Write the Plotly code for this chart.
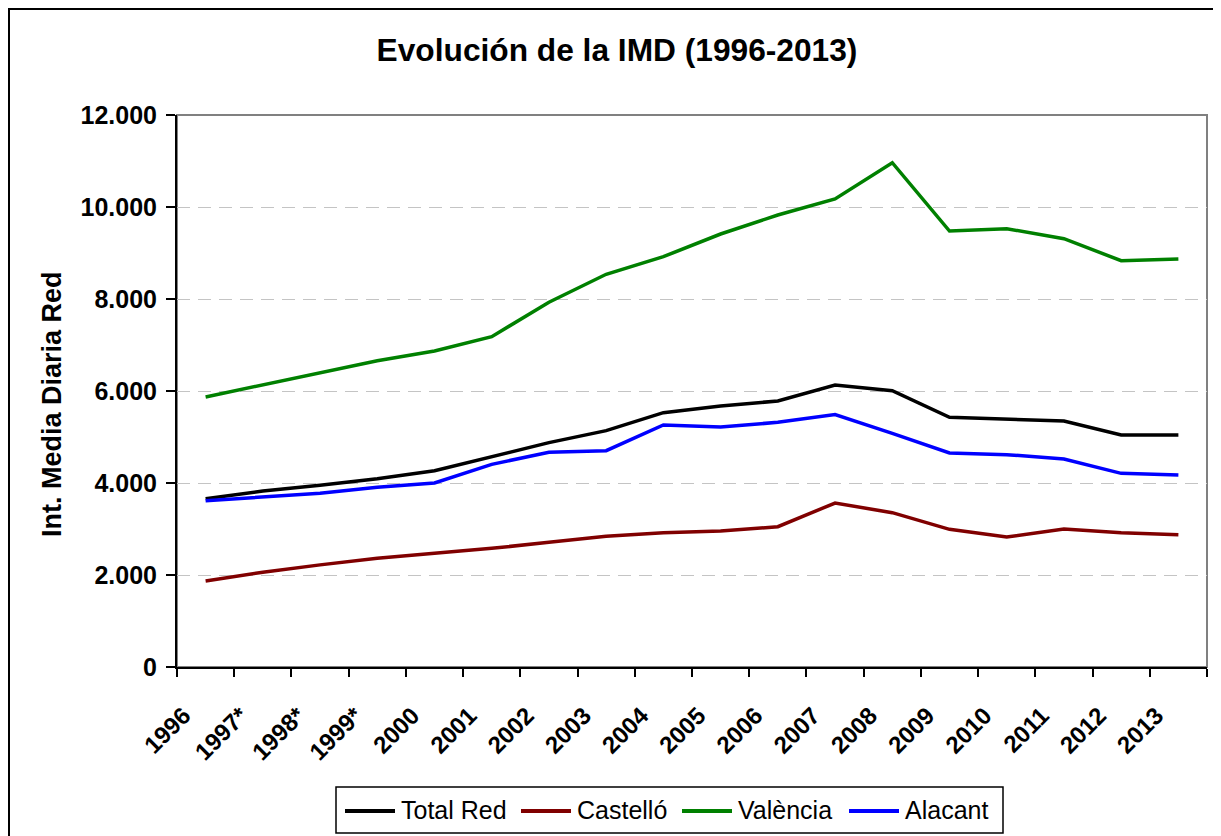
import plotly.graph_objects as go

years = ["1996", "1997*", "1998*", "1999*", "2000", "2001", "2002", "2003", "2004",
         "2005", "2006", "2007", "2008", "2009", "2010", "2011", "2012", "2013"]

total_red = [3659, 3826, 3950, 4094, 4268, 4572, 4877, 5138, 5529,
             5674, 5783, 6130, 6007, 5428, 5391, 5348, 5043, 5043]
castello = [1870, 2060, 2220, 2362, 2471, 2580, 2710, 2841, 2920,
            2957, 3050, 3565, 3355, 2993, 2826, 3000, 2920, 2876]
valencia = [5870, 6130, 6398, 6659, 6870, 7181, 7930, 8537, 8920,
            9413, 9826, 10174, 10963, 9478, 9528, 9311, 8833, 8870]
alacant = [3615, 3689, 3776, 3906, 4000, 4406, 4667, 4703, 5261,
           5217, 5319, 5486, 5080, 4652, 4616, 4522, 4210, 4174]

series_names = ["Total Red", "Castelló", "València", "Alacant"]
series_values = [total_red, castello, valencia, alacant]
series_colors = ["#000000", "#800000", "#008000", "#0000FF"]

FONT = "Liberation Sans, Arial, sans-serif"

fig = go.Figure()
for name, vals, col in zip(series_names, series_values, series_colors):
    fig.add_trace(go.Scatter(x=years, y=vals, name=name, mode="lines",
                             line=dict(color=col, width=3.5), showlegend=False))

# page body has an 8px margin, so work in screen pixels and shift by OFF
OFF = 8
W, H = 1221 - OFF, 836 - OFF
PL, PR, PT, PB = 177, 1207, 115, 667   # plot area in screen pixels
L, R, T, B = PL - OFF, W - (PR - OFF), PT - OFF, H - (PB - OFF)
pw, ph = PR - PL, PB - PT


def px_x(x):
    return (x - PL) / pw


def px_y(y):
    return (PB - y) / ph


shapes = [
    # plot frame (grey top / right)
    dict(type="rect", xref="paper", yref="paper", x0=0, x1=1, y0=0, y1=1,
         line=dict(color="#808080", width=2), layer="below"),
    # outer chart border
    dict(type="rect", xref="paper", yref="paper",
         x0=px_x(OFF + 1), x1=px_x(1214), y0=px_y(860), y1=px_y(OFF + 1),
         line=dict(color="black", width=2), layer="below"),
    # legend box
    dict(type="rect", xref="paper", yref="paper",
         x0=px_x(336), x1=px_x(1003), y0=px_y(833), y1=px_y(787),
         line=dict(color="black", width=1.5), fillcolor="white", layer="below"),
]
annotations = [
    dict(text="<b>Int. Media Diaria Red</b>", textangle=-90,
         xref="paper", yref="paper", x=px_x(52), y=px_y(404),
         xanchor="center", yanchor="middle", showarrow=False,
         font=dict(size=27, family=FONT, color="black")),
]

# manual legend (longer line samples, like the original)
leg_line_x = [345, 521, 682, 849]
leg_y = 811
for name, col, lx in zip(series_names, series_colors, leg_line_x):
    shapes.append(dict(type="line", xref="paper", yref="paper",
                       x0=px_x(lx), x1=px_x(lx + 50), y0=px_y(leg_y), y1=px_y(leg_y),
                       line=dict(color=col, width=4)))
    annotations.append(dict(text=name, xref="paper", yref="paper",
                            x=px_x(lx + 54), y=px_y(leg_y - 1),
                            xanchor="left", yanchor="middle", showarrow=False,
                            font=dict(size=25, family=FONT, color="black")))

fig.update_layout(
    width=W, height=H,
    margin=dict(l=L, r=R, t=T, b=B, autoexpand=False),
    paper_bgcolor="white", plot_bgcolor="white",
    separators=",.",
    font=dict(family=FONT, color="black"),
    title=dict(text="<b>Evolución de la IMD (1996-2013)</b>",
               x=(617 - OFF) / W, xref="container", xanchor="center",
               y=1 - (50 - OFF) / H, yref="container", yanchor="middle",
               font=dict(size=31.7, family=FONT, color="black")),
    xaxis=dict(type="category", showgrid=False, showline=True, linecolor="black",
               linewidth=2, ticks="outside", tickson="boundaries", ticklen=8,
               tickcolor="black", tickwidth=1.5, tickangle=-45,
               ticklabelstandoff=23, ticklabelshift=-22,
               tickfont=dict(size=24, family=FONT, color="black", weight="bold"),
               range=[-0.5, 17.5], zeroline=False, automargin=False),
    yaxis=dict(range=[0, 12000], dtick=2000, tickformat=",d",
               showgrid=True, gridcolor="#c4c4c4", griddash="13px,8px", gridwidth=1,
               showline=True, linecolor="black", linewidth=2,
               ticks="outside", ticklen=9, tickcolor="black", tickwidth=1.5,
               ticklabelstandoff=4,
               tickfont=dict(size=25, family=FONT, color="black", weight="bold"),
               zeroline=False, automargin=False),
    showlegend=False,
    shapes=shapes,
    annotations=annotations,
)

fig.write_html("out.html")
